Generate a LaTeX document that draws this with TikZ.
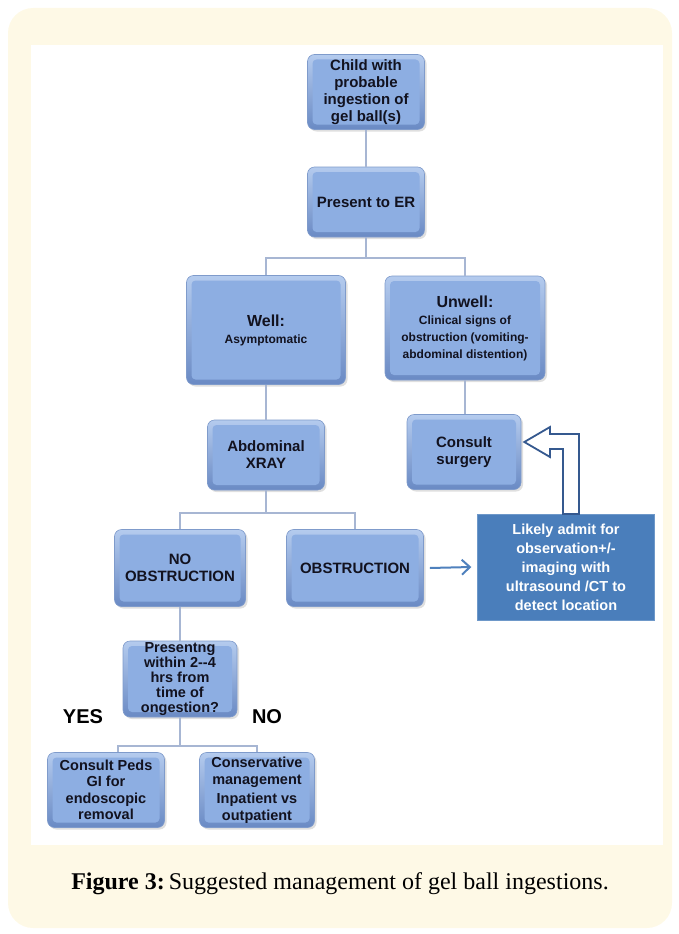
\documentclass[tikz,border=0pt]{standalone}
\usepackage{fontspec}
\setmainfont{Liberation Sans}
\newfontfamily\capfont{Liberation Serif}
\usetikzlibrary{shadows,arrows.meta,calc}
\definecolor{cream}{HTML}{FEF9E6}
\definecolor{boxin}{HTML}{8DAEE2}
\definecolor{boxtop}{HTML}{B4CBEE}
\definecolor{boxbot}{HTML}{6A8AC4}
\definecolor{boxedge}{HTML}{7F9BCB}
\definecolor{conncol}{HTML}{A7B6D3}
\definecolor{darkbox}{HTML}{4A7EBB}
\definecolor{arrowblue}{HTML}{4F81BD}
\definecolor{hollow}{HTML}{35598F}
\definecolor{txt}{HTML}{12121F}
\tikzset{
  bbox/.style={draw=boxedge, line width=0.6pt, rounded corners=7pt, top color=boxtop, bottom color=boxbot,
    inner sep=0pt, align=center, text=txt, font=\bfseries\fontsize{15}{17}\selectfont,
    drop shadow={opacity=0.25, shadow xshift=2pt, shadow yshift=-2pt},
    path picture={\fill[boxin, rounded corners=4pt] ([shift={(5pt,-5pt)}]path picture bounding box.north west) rectangle ([shift={(-5pt,5pt)}]path picture bounding box.south east);}},
  conn/.style={draw=conncol, line width=2pt},
  lbl/.style={font=\bfseries\fontsize{20}{22}\selectfont, text=black}
}
\begin{document}
\begin{tikzpicture}[x=1pt,y=-1pt]
\useasboundingbox (0,0) rectangle (679,934);
\fill[cream, rounded corners=25pt] (8,8) rectangle (672,928);
\fill[white] (31,45) rectangle (663,845);

\node[bbox, minimum width=117pt, minimum height=75pt] (child) at (366,92) {Child with\\probable\\ingestion of\\gel ball(s)};
\node[bbox, minimum width=117pt, minimum height=70pt] (er) at (366,202) {Present to ER};
\node[bbox, minimum width=159pt, minimum height=109pt] (well) at (266,330) {{\fontsize{16}{22}\selectfont Well:}\\{\fontsize{12}{14}\selectfont Asymptomatic}};
\node[bbox, minimum width=160pt, minimum height=104pt] (unwell) at (465,328) {{\fontsize{16}{24}\selectfont Unwell:}\\{\fontsize{12}{12.5}\selectfont Clinical signs of}\\{\fontsize{12}{12.5}\selectfont obstruction (vomiting-}\\{\fontsize{12}{12.5}\selectfont abdominal distention)}};
\node[bbox, minimum width=117pt, minimum height=70pt] (xray) at (266,455) {Abdominal\\XRAY};
\node[bbox, minimum width=114pt, minimum height=75pt] (surg) at (464,452) {Consult\\surgery};
\node[bbox, minimum width=131pt, minimum height=77pt] (noobs) at (180,568) {NO\\OBSTRUCTION};
\node[bbox, minimum width=137pt, minimum height=77pt] (obs) at (355,568) {OBSTRUCTION};
\node[fill=darkbox, draw=darkbox!80!white, minimum width=177pt, minimum height=106pt, inner sep=0pt, align=center,
  text=white, font=\bfseries\fontsize{14.5}{19}\selectfont] (likely) at (566,567) {Likely admit for\\observation+/-\\imaging with\\ultrasound /CT to\\detect location};
\node[bbox, minimum width=114pt, minimum height=76pt, font=\bfseries\fontsize{14.5}{15}\selectfont] (pres) at (180,679) {Presentng\\within 2-{}-4\\hrs from\\time of\\ongestion?};
\node[bbox, minimum width=117pt, minimum height=75pt, font=\bfseries\fontsize{14.5}{16.5}\selectfont] (peds) at (106,790) {Consult Peds\\GI for\\endoscopic\\removal};
\node[bbox, minimum width=115pt, minimum height=75pt, font=\bfseries\fontsize{14.5}{16.5}\selectfont] (cons) at (257,790) {Conservative\\management\\[3pt]Inpatient vs\\outpatient};

\node[lbl] (yes) at (83,717) {YES};
\node[lbl] (no) at (267,717) {NO};

% connectors
\draw[conn] (child.south) -- (er.north);
\coordinate (j1) at (366,258);
\draw[conn] (er.south) -- (j1);
\draw[conn] (well.north) |- (j1) -| (unwell.north);
\draw[conn] (well.south) -- (xray.north);
\draw[conn] (unwell.south |- 0,380) -- (surg.north -| unwell.south);
\coordinate (j2) at (266,513);
\draw[conn] (xray.south) -- (j2);
\draw[conn] (noobs.north) |- (j2) -| (obs.north);
\draw[conn] (noobs.south) -- (pres.north);
\coordinate (j3) at (180,746);
\draw[conn] (pres.south) -- (j3);
\draw[conn] ([xshift=12pt]peds.north) |- (j3) -| (cons.north);

% straight arrow
\draw[arrowblue, line width=2pt, -{Straight Barb[length=8pt,width=15pt]}] ([xshift=6pt]obs.east) -- ([xshift=-6pt]likely.west);

% hollow bent arrow
\draw[hollow, line width=1.8pt, fill=white, line join=miter] (563,514)
  -- (563,449) -- (550,449) -- (550,457) -- ([xshift=3pt]surg.east |- 0,442) coordinate (tip) -- (550,427) -- (550,434) -- (579,434) -- (579,514) -- cycle;

% caption
\node[font=\capfont\fontsize{24}{28}\selectfont, text=black] (cap) at (340,884) {\textbf{Figure 3:}\,Suggested management of gel ball ingestions.};
\end{tikzpicture}
\end{document}
